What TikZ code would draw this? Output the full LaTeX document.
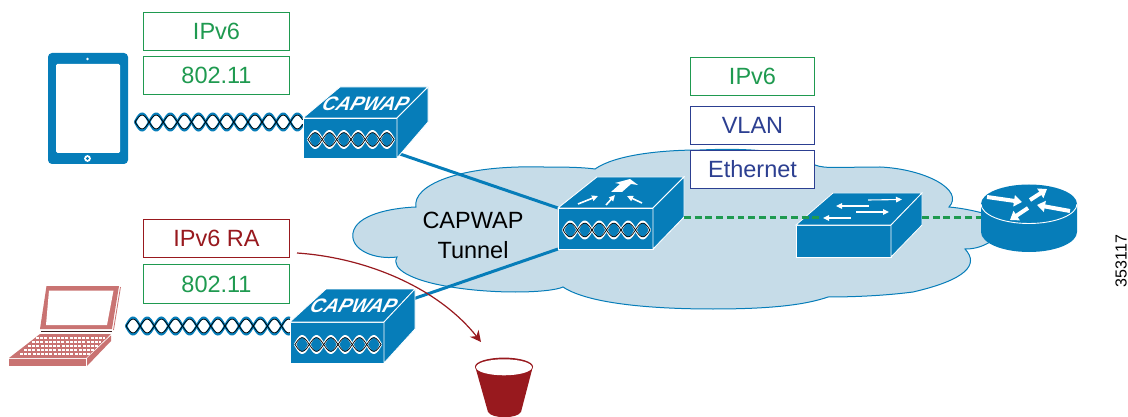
\documentclass[tikz,border=0pt]{standalone}
\usepackage{fontspec}
\setmainfont{Liberation Sans}
\usetikzlibrary{arrows.meta}
\definecolor{cblue}{HTML}{067DB9}
\definecolor{ccloud}{HTML}{C6DCE8}
\definecolor{cgreen}{HTML}{1F9A50}
\definecolor{cnavy}{HTML}{2C3F91}
\definecolor{cred}{HTML}{98191E}
\definecolor{cpink}{HTML}{C97372}
\tikzset{
  every node/.style={inner sep=0pt,outer sep=0pt},
  txt/.style={font=\fontsize{23.5}{27}\selectfont},
  lab/.style={txt,draw=#1,text=#1,fill=white,line width=1.1,minimum height=38.5,align=center},
  wide/.style={minimum width=146.5},
  narrow/.style={minimum width=124.5},
  face/.style={fill=cblue,draw=white,line width=.8},
  link/.style={draw=cblue,line width=3},
  eth/.style={draw=cgreen,line width=3,dash pattern=on 6.8 off 3.9},
  sarrow/.style={draw=white,line width=1.1,-{Triangle[width=5.5,length=6]}},
  rarrow/.style={draw=white,line width=4,-{Triangle[width=11,length=8]}},
  caplabel/.style={xslant=.35,transform shape,text=white,font=\fontsize{19.5}{20}\selectfont\bfseries\itshape},
}
\newcommand{\helixrun}[8]{% x0,len,y,amp,lobes,outer,inner,wid
  \foreach \sgn in {1,-1}{
    \draw[#6,line width=#8] plot[domain=0:1,samples=260] ({#1+\x*#2},{#3+\sgn*(#4+.3)*sin(\x*180*#5)});
  }
  \foreach \sgn in {1,-1}{
    \draw[#7,line width=.7] plot[domain=0:1,samples=260] ({#1+\x*#2},{#3+\sgn*(#4-1.2)*sin(\x*180*#5)});
  }}
\newcommand{\devbox}[9]{% name,x,y,w,h,backleftx,backrightx,backy,siderighty
  \node[face,anchor=north west,minimum width=#4,minimum height=#5] (#1) at (#2,#3) {};
  \path[face] (#2,#3) -- (#6,#8) -- (#7,#8) -- (#2+#4,#3) -- cycle;
  \path[face] (#2+#4,#3) -- (#7,#8) -- (#7,#9) -- (#2+#4,#3+#5) -- cycle;}
\begin{document}
\begin{tikzpicture}[x=1pt,y=-1pt]
\useasboundingbox (0,0) rectangle (1128,417);

% cloud
\path[fill=ccloud,draw=cblue,line width=1]
  (416,207) .. controls (412,185) and (460,165) .. (540,167)
  .. controls (560,167) and (580,167) .. (595,169)
  .. controls (615,155) and (660,150) .. (700,150)
  .. controls (745,148) and (790,150) .. (815,165)
  .. controls (825,169) and (840,167) .. (880,167)
  .. controls (925,169) and (965,190) .. (949,207)
  .. controls (960,208) and (972,210) .. (990,215)
  -- (990,242)
  .. controls (980,248) and (972,249) .. (965,249)
  .. controls (980,265) and (965,280) .. (913,292)
  .. controls (890,295) and (860,297) .. (828,297)
  .. controls (805,305) and (770,309) .. (713,309)
  .. controls (660,309) and (590,305) .. (563,287)
  .. controls (550,293) and (490,295) .. (440,285)
  .. controls (415,280) and (390,270) .. (397,257)
  .. controls (375,260) and (350,250) .. (353,233)
  .. controls (356,215) and (390,208) .. (416,207) -- cycle;

\node[txt,align=center] (tunnel) at (473,235) {CAPWAP\\[3pt]Tunnel};

% devices
\coordinate (ap1out) at (397,153);
\coordinate (ap2out) at (410,300);
\devbox{wlc}{558}{208}{95}{41}{597}{684}{177}{217}
\draw[link] (ap1out) -- (wlc.north west);
\draw[link] (ap2out) -- (wlc.south west);
\devbox{wlc}{558}{208}{95}{41}{597}{684}{177}{217}

% switch
\devbox{sw}{796}{225}{95}{32}{833}{922}{193}{225}

% router
\path[fill=cblue] (981,204) -- (981,232) arc[start angle=180,end angle=0,x radius=48,y radius=20] -- (1077,204) arc[start angle=360,end angle=180,x radius=48,y radius=19.5] -- cycle;
\draw[white,line width=.9] (981,204) arc[start angle=180,end angle=0,x radius=48,y radius=19.5];
\coordinate (rtr) at (981,218);

% ethernet links
\coordinate (swin) at (823,218);
\coordinate (swout) at (922,218);
\coordinate (wlcout) at (684,218);
\draw[eth] (wlcout) -- (swin);
\draw[eth] (swout) -- (rtr);

% controller arrows
\draw[sarrow,line width=1.6] (578,204) -- (598,196);
\draw[sarrow,line width=1.6] (606,205) -- (615,195);
\draw[sarrow,line width=1.6] (642,203) -- (627,196);
\fill[white] (611,192) -- (620,184) -- (615,183) -- (630,179) -- (638,185) -- (631,184) -- (622,192) -- cycle;

% switch arrows
\draw[sarrow] (868,200) -- (902,199.5);
\draw[sarrow] (869,206) -- (836,206);
\draw[sarrow] (856,212) -- (889,212);
\draw[sarrow] (851,218) -- (823,218);

% router arrows
\draw[rarrow] (987,197) -- (1022,202);
\draw[rarrow] (1030,200) -- (1047,189);
\draw[rarrow] (1070,211) -- (1037,205);
\draw[rarrow] (1028,208) -- (1010,220);

% helix cables
\helixrun{135}{168}{122}{8}{11.9}{cblue}{black}{2.4}
\helixrun{126}{164}{326}{8}{11.6}{cblue}{black}{2.4}
\devbox{ap1}{303}{118}{94}{40}{340}{428}{87}{122}
\devbox{ap2}{290}{322}{94}{41}{326}{415}{289}{329}
\helixrun{308}{86}{139.5}{8}{6}{white}{black}{2.2}
\helixrun{295}{86}{344.5}{8}{6}{white}{black}{2.2}
\helixrun{563}{87}{230}{8}{6}{white}{black}{2.2}

% CAPWAP labels
\begin{scope}[shift={(366,103.5)}]
  \node[caplabel] (t1) at (0,0) {CAPWAP};
\end{scope}
\begin{scope}[shift={(354,306)}]
  \node[caplabel] (t2) at (0,0) {CAPWAP};
\end{scope}

% tablet
\path[fill=cblue,rounded corners=4] (48,53) rectangle (128,164);
\path[fill=white,rounded corners=1.5] (56,64) rectangle (120,153);
\fill[white] (87.5,59) circle (1.4);
\fill[white] (87.5,158.5) circle (3.4);
\fill[cblue] (87.5,158.5) circle (1.6);

% laptop
\path[fill=cpink] (46.5,286) -- (119,286) -- (112,329) -- (40,329) -- cycle;
\path[fill=white] (49,290.5) -- (113.5,290.5) -- (107,325) -- (46,325) -- cycle;
\draw[cpink,line width=.8] (120.5,287) -- (113.5,330);
\draw[black!70!cpink,line width=.8] (41,331.5) -- (112,331.5);
\path[fill=cpink] (40,334) -- (111,334) -- (86,358) -- (9,358) -- cycle;
\path[fill=cpink] (9,359) -- (86,359) -- (86,366) -- (9,366) -- cycle;
\path[fill=cpink] (87,358) -- (111,335.5) -- (111,341) -- (87,366) -- cycle;
\foreach \yy/\xa/\xb in {338/36/105,342/32/101,346/28/98,350/24/94,354/20/90}{
  \draw[white,line width=1.5,dash pattern=on 3 off 1.2] (\xa,\yy) -- (\xb,\yy);
}

% protocol stacks
\node[lab=cgreen,wide] (n1) at (216.5,31.5) {IPv6};
\node[lab=cgreen,wide] (n2) at (216.5,75.5) {802.11};
\node[lab=cred,wide] (n3) at (216.5,238.5) {IPv6 RA};
\node[lab=cgreen,wide] (n4) at (216.5,284) {802.11};
\node[lab=cgreen,narrow] (n5) at (752.5,76.5) {IPv6};
\node[lab=cnavy,narrow] (n6) at (752.5,125.5) {VLAN};
\node[lab=cnavy,narrow] (n7) at (752.5,169.5) {Ethernet};

% bucket
\path[fill=cred] (475,366) -- (488,412) .. controls (492,419) and (517,419) .. (521,412) -- (533,366) -- cycle;
\path[fill=cred] (504,366.6) ellipse[x radius=29,y radius=9];
\path[fill=white] (504,367.3) ellipse[x radius=28,y radius=8];
\coordinate (bin) at (481,342);

% RA curve
\coordinate (rastart) at (297,253);
\draw[cred,line width=1.2,-{Stealth[length=11,width=11]}] (rastart) .. controls (370,258) and (440,290) .. (bin);

% figure number
\node[rotate=90,font=\fontsize{16}{18}\selectfont] (num) at (1121,261) {353117};
\end{tikzpicture}
\end{document}
